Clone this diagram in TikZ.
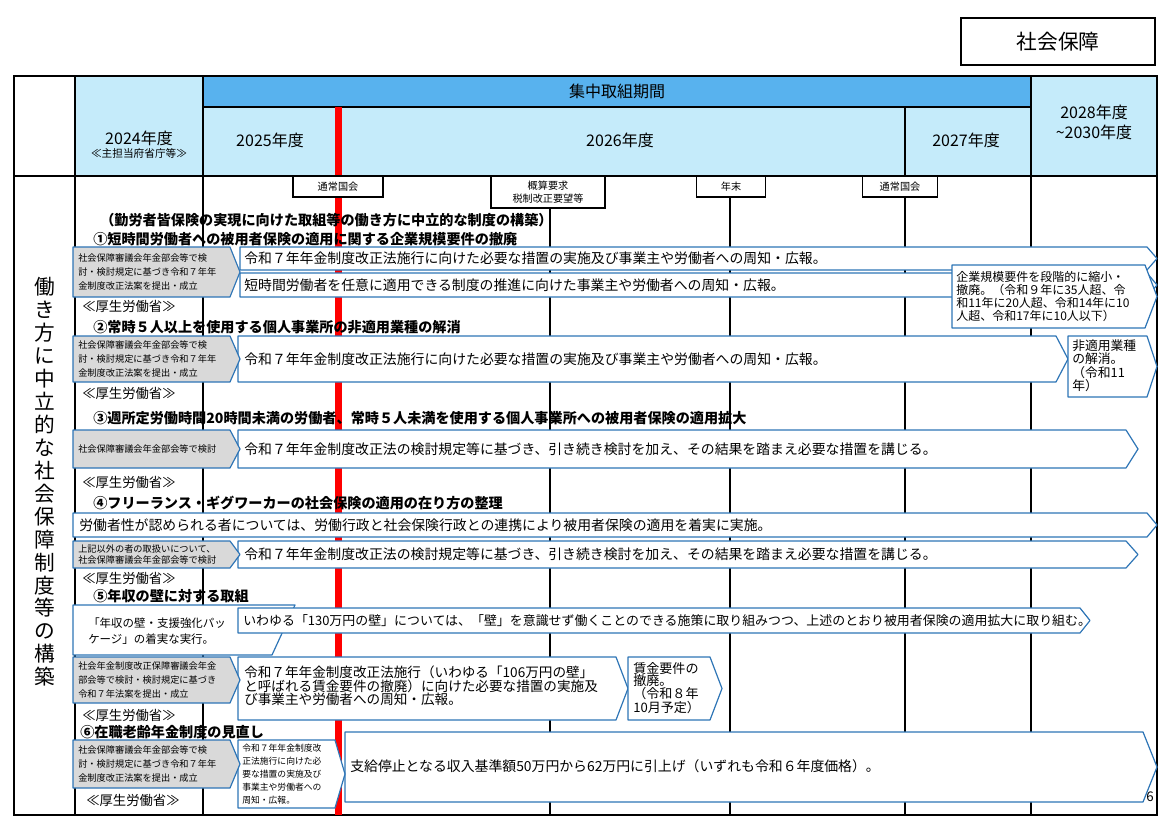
\documentclass[tikz,border=0pt]{standalone}
\usepackage{fontspec}
\setmainfont{Noto Sans CJK JP}
\definecolor{hdrlight}{RGB}{197,235,250}
\definecolor{hdrdark}{RGB}{88,178,238}
\definecolor{arrowblue}{RGB}{46,117,182}
\definecolor{grayfill}{RGB}{217,217,217}
% arrow-shaped box: style, x1, y1, x2, y2, tip
\newcommand\chev[6]{\draw[#1] (#2,#3) -- ({#4-#6},#3) -- (#4,{(#3+#5)/2}) -- ({#4-#6},#5) -- (#2,#5) -- cycle;}
\begin{document}
\begin{tikzpicture}[x=0.75pt,y=-0.75pt]
        % Styles
        \tikzset{grid line/.style={black,line width=0.8pt},
                 blue box/.style={draw=arrowblue,fill=white,line width=0.9pt,line join=round},
                 gray box/.style={draw=arrowblue,fill=grayfill,line width=0.9pt,line join=round},
                 body text/.style={anchor=west,inner sep=0pt,font=\fontsize{10.4}{11}\selectfont,align=left},
                 gray text/.style={anchor=west,inner sep=0pt,font=\fontsize{6.9}{10.3}\selectfont,align=left},
                 title text/.style={anchor=west,inner sep=0pt,font=\bfseries\fontsize{10.6}{12}\selectfont},
                 ministry/.style={anchor=west,inner sep=0pt,font=\fontsize{10}{12}\selectfont},
                 mark box/.style={draw,fill=white,line width=0.8pt,inner sep=0pt,font=\fontsize{7.6}{10}\selectfont,align=center}}
        \useasboundingbox (0,0) rectangle (1170,827);
        %header
        \node[draw,line width=1pt,minimum width=194*0.75pt,minimum height=47*0.75pt,font=\fontsize{15.5}{18}\selectfont] (title) at (1058,41.5) {社会保障};
        \fill[hdrlight] (75,76) rectangle (1157,176);
        \fill[hdrdark] (203,76) rectangle (1031,107);
        \node[font=\fontsize{12}{14}\selectfont] (focus) at (617,91) {集中取組期間};
        \node[align=center,font=\fontsize{12}{14}\selectfont] (y2024) at (139,145) {2024年度\\[-4pt]{\fontsize{8}{9}\selectfont ≪主担当府省庁等≫}};
        \node[font=\fontsize{12}{14}\selectfont] (y2025) at (270,140) {2025年度};
        \node[font=\fontsize{12}{14}\selectfont] (y2026) at (620,140) {2026年度};
        \node[font=\fontsize{12}{14}\selectfont] (y2027) at (966,140) {2027年度};
        \node[align=center,font=\fontsize{12}{15}\selectfont] (y2028) at (1094,122) {2028年度\\\textasciitilde 2030年度};
        \draw[grid line] (203,107) -- (1031,107);
        \draw[grid line] (203,76) -- (203,815);
        \foreach \xcol in {550,730} \draw[grid line] (\xcol,176) -- (\xcol,815);
        \draw[grid line] (905,107) -- (905,815);
        \draw[grid line] (1031,76) -- (1031,815);
        \draw[grid line] (75,76) -- (75,815);
        \draw[line width=1.6pt] (14,176) -- (1157,176);
        \draw[line width=1pt] (14,76) rectangle (1157,815);
        \fill[red] (335,107) rectangle (342,815);
        %milestones
        \node[mark box,minimum width=90*0.75pt,minimum height=21*0.75pt] (diet1) at (338,186.5) {通常国会};
        \node[mark box,minimum width=114*0.75pt,minimum height=32*0.75pt] (budget) at (548,192) {概算要求\\税制改正要望等};
        \node[mark box,minimum width=69*0.75pt,minimum height=21*0.75pt] (yearend) at (731,186.5) {年末};
        \node[mark box,minimum width=75*0.75pt,minimum height=21*0.75pt] (diet2) at (900,186.5) {通常国会};
        %left label
        \node[align=center,inner sep=0pt,font=\fontsize{15.5}{17.2}\selectfont] (theme) at (45,482) {働\\き\\方\\に\\中\\立\\的\\な\\社\\会\\保\\障\\制\\度\\等\\の\\構\\築};
        %(1)
        \node[title text] (head) at (100,220) {（勤労者皆保険の実現に向けた取組等の働き方に中立的な制度の構築）};
        \node[title text] (t1) at (93,239) {①短時間労働者への被用者保険の適用に関する企業規模要件の撤廃};
        \chev{blue box}{240}{247}{1157}{270}{10}
        \node[body text] (a1) at (244,258.5) {令和７年年金制度改正法施行に向けた必要な措置の実施及び事業主や労働者への周知・広報。};
        \chev{blue box}{240}{273}{1157}{297}{10}
        \node[body text] (a2) at (244,285) {短時間労働者を任意に適用できる制度の推進に向けた事業主や労働者への周知・広報。};
        \chev{gray box}{73}{247}{240}{297}{10}
        \node[gray text] (g1) at (78,272) {社会保障審議会年金部会等で検\\討・検討規定に基づき令和７年年\\金制度改正法案を提出・成立};
        \chev{blue box}{952}{265}{1157}{328}{12}
        \node[body text,font=\fontsize{9}{9.6}\selectfont] (s1) at (956,296.5) {企業規模要件を段階的に縮小・\\撤廃。（令和９年に35人超、令\\和11年に20人超、令和14年に10\\人超、令和17年に10人以下）};
        \node[ministry] (m1) at (82,306) {≪厚生労働省≫};
        %(2)
        \node[title text] (t2) at (93,327) {②常時５人以上を使用する個人事業所の非適用業種の解消};
        \chev{blue box}{238}{336}{1068}{382}{12}
        \node[body text] (a3) at (244,359) {令和７年年金制度改正法施行に向けた必要な措置の実施及び事業主や労働者への周知・広報。};
        \chev{blue box}{1068}{336}{1157}{397}{10}
        \node[body text,font=\fontsize{9.6}{8.8}\selectfont] (s2) at (1072,366) {非適用業種\\の解消。\\（令和11\\年）};
        \chev{gray box}{73}{336}{240}{382}{10}
        \node[gray text] (g2) at (78,359) {社会保障審議会年金部会等で検\\討・検討規定に基づき令和７年年\\金制度改正法案を提出・成立};
        \node[ministry] (m2) at (82,393) {≪厚生労働省≫};
        %(3)
        \node[title text] (t3) at (93,418) {③週所定労働時間20時間未満の労働者、常時５人未満を使用する個人事業所への被用者保険の適用拡大};
        \chev{blue box}{238}{430}{1138}{468}{12}
        \node[body text] (a4) at (244,449) {令和７年年金制度改正法の検討規定等に基づき、引き続き検討を加え、その結果を踏まえ必要な措置を講じる。};
        \chev{gray box}{73}{430}{240}{468}{10}
        \node[gray text] (g3) at (78,449) {社会保障審議会年金部会等で検討};
        \node[ministry] (m3) at (82,482) {≪厚生労働省≫};
        %(4)
        \node[title text] (t4) at (93,503) {④フリーランス・ギグワーカーの社会保険の適用の在り方の整理};
        \chev{blue box}{73}{513}{1157}{537}{10}
        \node[body text] (a5) at (79,525) {労働者性が認められる者については、労働行政と社会保険行政との連携により被用者保険の適用を着実に実施。};
        \chev{blue box}{238}{541}{1138}{568}{12}
        \node[body text] (a6) at (244,554.5) {令和７年年金制度改正法の検討規定等に基づき、引き続き検討を加え、その結果を踏まえ必要な措置を講じる。};
        \chev{gray box}{73}{541}{240}{568}{10}
        \node[gray text,font=\fontsize{6.9}{7.8}\selectfont] (g4) at (78,554.5) {上記以外の者の取扱いについて、\\社会保障審議会年金部会等で検討};
        \node[ministry] (m4) at (82,578) {≪厚生労働省≫};
        %(5)
        \node[title text] (t5) at (93,596) {⑤年収の壁に対する取組};
        \draw[blue box] (73,605) -- (295,605) -- (272,655) -- (73,655) -- cycle;
        \node[body text,font=\fontsize{8.6}{12.5}\selectfont] (p5) at (88,631) {「年収の壁・支援強化パッ\\ケージ」の着実な実行。};
        \chev{blue box}{238}{608}{1090}{633}{10}
        \node[body text,font=\fontsize{9.7}{11}\selectfont] (a7) at (243,620.5) {いわゆる「130万円の壁」については、「壁」を意識せず働くことのできる施策に取り組みつつ、上述のとおり被用者保険の適用拡大に取り組む。};
        \chev{blue box}{238}{657}{628}{720}{12}
        \node[body text,font=\fontsize{10.2}{9.6}\selectfont] (a8) at (244,686) {令和７年年金制度改正法施行（いわゆる「106万円の壁」\\と呼ばれる賃金要件の撤廃）に向けた必要な措置の実施及\\び事業主や労働者への周知・広報。};
        \chev{blue box}{628}{657}{722}{720}{12}
        \node[body text,font=\fontsize{9.8}{9.2}\selectfont] (s5) at (633,688) {賃金要件の\\撤廃。\\（令和８年\\10月予定）};
        \chev{gray box}{73}{657}{240}{703}{10}
        \node[gray text] (g5) at (78,680) {社会年金制度改正保障審議会年金\\部会等で検討・検討規定に基づき\\令和７年法案を提出・成立};
        \node[ministry] (m5) at (82,715) {≪厚生労働省≫};
        %(6)
        \node[title text] (t6) at (80,732) {⑥在職老齢年金制度の見直し};
        \chev{blue box}{345}{732}{1157}{802}{14}
        \node[body text] (a9) at (350,766) {支給停止となる収入基準額50万円から62万円に引上げ（いずれも令和６年度価格）。};
        \chev{blue box}{238}{740}{345}{808}{10}
        \node[gray text,font=\fontsize{6.6}{9.8}\selectfont] (s6) at (242,774) {令和７年年金制度改\\正法施行に向けた必\\要な措置の実施及び\\事業主や労働者への\\周知・広報。};
        \chev{gray box}{73}{740}{240}{788}{10}
        \node[gray text] (g6) at (78,764) {社会保障審議会年金部会等で検\\討・検討規定に基づき令和７年年\\金制度改正法案を提出・成立};
        \node[ministry] (m6) at (86,800) {≪厚生労働省≫};
        \node[font=\fontsize{10}{12}\selectfont] (page) at (1150,797) {6};
\end{tikzpicture}
\end{document}
